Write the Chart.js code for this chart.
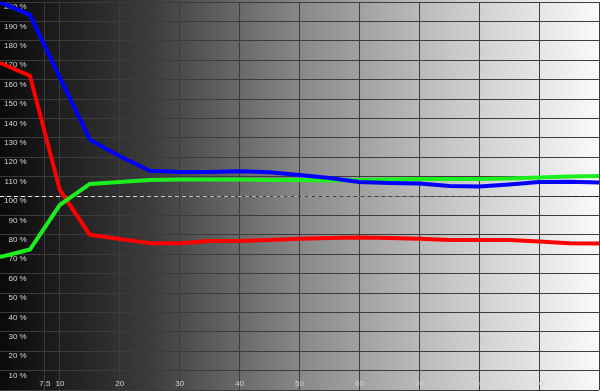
<!DOCTYPE html>
<html lang="en">
<head>
    <meta charset="UTF-8">
    <title>RGB Balance</title>
    <script src="https://cdn.jsdelivr.net/npm/chart.js"></script>
    <style>
        body { margin: 0; background: #000; }
        #wrap { width: 600px; height: 391px; }
    </style>
</head>
<body>
    <div id="wrap">
        <canvas id="rgbChart"></canvas>
    </div>

    <script>
        // Measured levels (% of stimulus) and RGB balance values
        const levels = [0, 5, 10, 15, 20, 25, 30, 35, 40, 45, 50, 55, 60, 65, 70, 75, 80, 85, 90, 95, 100];
        const redValues = [168.6, 162, 103, 80, 77.8, 75.7, 75.7, 76.8, 76.8, 77.3, 78, 78.3, 78.6, 78.3, 78, 77.3, 77.3, 77.3, 76.5, 75.7, 75.5];
        const greenValues = [68.5, 72.4, 95.4, 106.2, 107.2, 108.3, 108.5, 108.5, 108.5, 108.3, 108.3, 108, 108.3, 108.5, 108.8, 108.8, 108.8, 109, 109.5, 110, 110.3];
        const blueValues = [200, 193.4, 161, 129, 120.5, 113, 112.4, 112.4, 112.7, 112.3, 110.8, 109.3, 107.2, 106.7, 106.4, 105.2, 104.9, 105.9, 107.2, 107.4, 107];

        const xTicks = [7.5, 10, 20, 30, 40, 50, 60, 70, 80, 90, 100];
        const yTicks = [0, 10, 20, 30, 40, 50, 60, 70, 80, 90, 100, 110, 120, 130, 140, 150, 160, 170, 180, 190, 200];
        const reference = 100;

        const toPoints = vals => vals.map((v, i) => ({ x: levels[i], y: v }));

        // labels sit inside the plot, so the scales must not reserve any room
        function noRoom(s) {
            if (s.isHorizontal()) s.height = 0; else s.width = 0;
            s.paddingTop = 0;
            s.paddingBottom = 0;
            s.paddingLeft = 0;
            s.paddingRight = 0;
        }

        // grey ramp behind the plot
        const rampBackground = {
            id: 'rampBackground',
            beforeDraw(chart) {
                const ctx = chart.ctx;
                const g = ctx.createLinearGradient(0, 0, chart.width, 0);
                g.addColorStop(0, '#0a0a0a');
                g.addColorStop(0.25, '#3c3c3c');
                g.addColorStop(0.5, '#888888');
                g.addColorStop(0.75, '#c6c6c6');
                g.addColorStop(1, '#fafafa');
                ctx.save();
                ctx.fillStyle = g;
                ctx.fillRect(0, 0, chart.width, chart.height);
                ctx.restore();
            }
        };

        // dashed 100 % reference line, light on dark and dark on light
        const referenceLine = {
            id: 'referenceLine',
            beforeDatasetsDraw(chart) {
                const ctx = chart.ctx;
                const y = Math.round(chart.scales.y.getPixelForValue(reference)) + 0.5;
                const g = ctx.createLinearGradient(0, 0, chart.width, 0);
                g.addColorStop(0, '#f4f4f4');
                g.addColorStop(0.55, '#9a9a9a');
                g.addColorStop(1, '#202020');
                ctx.save();
                ctx.strokeStyle = g;
                ctx.lineWidth = 1;
                ctx.setLineDash([4, 3]);
                ctx.beginPath();
                ctx.moveTo(chart.chartArea.left, y);
                ctx.lineTo(chart.chartArea.right, y);
                ctx.stroke();
                ctx.restore();
            }
        };

        new Chart(document.getElementById('rgbChart'), {
            type: 'line',
            data: {
                datasets: [{
                    label: 'Blue',
                    data: toPoints(blueValues),
                    borderColor: '#0000ff'
                }, {
                    label: 'Green',
                    data: toPoints(greenValues),
                    borderColor: '#1cf01c'
                }, {
                    label: 'Red',
                    data: toPoints(redValues),
                    borderColor: '#ff0000'
                }]
            },
            options: {
                responsive: true,
                maintainAspectRatio: false,
                animation: false,
                layout: { padding: { top: 2, bottom: 1, left: 0, right: 1 } },
                elements: {
                    line: { borderWidth: 4, tension: 0, borderJoinStyle: 'round' },
                    point: { radius: 0 }
                },
                plugins: {
                    legend: { display: false },
                    tooltip: { enabled: false }
                },
                scales: {
                    x: {
                        type: 'linear',
                        min: 0,
                        max: 100,
                        afterBuildTicks: s => { s.ticks = xTicks.map(v => ({ value: v })); },
                        afterFit: noRoom,
                        border: { display: false },
                        grid: { color: '#3c3c3c', lineWidth: 1, drawTicks: false },
                        ticks: {
                            mirror: true,
                            padding: 1,
                            maxRotation: 0,
                            autoSkip: false,
                            color: '#d4d4d4',
                            font: { family: 'Liberation Sans', size: 8 },
                            callback: v => v === 100 ? '' : String(v)
                        }
                    },
                    y: {
                        min: 0,
                        max: 200,
                        afterBuildTicks: s => { s.ticks = yTicks.map(v => ({ value: v })); },
                        afterFit: noRoom,
                        border: { display: false },
                        grid: { color: '#3c3c3c', lineWidth: 1, drawTicks: false },
                        ticks: {
                            mirror: true,
                            crossAlign: 'far',
                            padding: 4,
                            labelOffset: 5,
                            autoSkip: false,
                            color: '#d4d4d4',
                            font: { family: 'Liberation Sans', size: 8 },
                            callback: v => v === 0 ? '' : v + ' %'
                        }
                    }
                }
            },
            plugins: [rampBackground, referenceLine]
        });
    </script>
</body>
</html>
